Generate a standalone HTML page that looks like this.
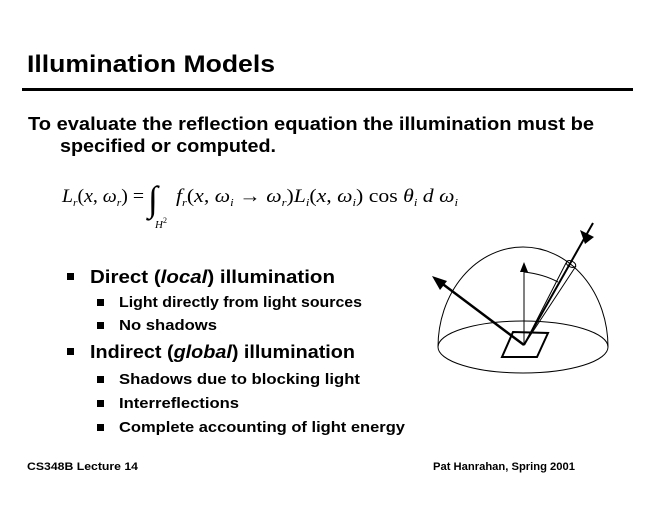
<!DOCTYPE html>
<html><head><meta charset="utf-8"><style>
html,body{margin:0;padding:0;background:#fff;width:660px;height:510px;overflow:hidden}
svg{display:block}
.b{font-family:"Liberation Sans",Arial,sans-serif;font-weight:bold;fill:#000}
.m{font-family:"Liberation Serif","Times New Roman",serif;fill:#000}
</style></head><body>
<svg width="660" height="510" viewBox="0 0 660 510" xmlns="http://www.w3.org/2000/svg">
<text class="b" x="27" y="72" font-size="24" textLength="248" lengthAdjust="spacingAndGlyphs">Illumination Models</text>
<rect x="22" y="88" width="611" height="3" fill="#000"/>
<text class="b" x="28" y="130" font-size="18" textLength="566" lengthAdjust="spacingAndGlyphs">To evaluate the reflection equation the illumination must be</text>
<text class="b" x="60" y="152" font-size="18" textLength="216" lengthAdjust="spacingAndGlyphs">specified or computed.</text>

<text class="m" x="62" y="202" font-size="19" textLength="82" lengthAdjust="spacingAndGlyphs"><tspan font-style="italic">L</tspan><tspan font-size="11" dy="4" font-style="italic">r</tspan><tspan dy="-4">(</tspan><tspan font-style="italic">x</tspan>, <tspan font-style="italic">ω</tspan><tspan font-size="11" dy="4" font-style="italic">r</tspan><tspan dy="-4">) =</tspan></text>
<text class="m" x="148" y="211" font-size="36" transform="scale(1,1)">∫</text>
<text class="m" x="155" y="228" font-size="11" font-style="italic">H<tspan font-style="normal" font-size="8" dy="-5">2</tspan></text>
<text class="m" x="176" y="202" font-size="19" textLength="282" lengthAdjust="spacingAndGlyphs"><tspan font-style="italic">f</tspan><tspan font-size="11" dy="4" font-style="italic">r</tspan><tspan dy="-4">(</tspan><tspan font-style="italic">x</tspan>, <tspan font-style="italic">ω</tspan><tspan font-size="11" dy="4" font-style="italic">i</tspan><tspan dy="-4"> → </tspan><tspan font-style="italic">ω</tspan><tspan font-size="11" dy="4" font-style="italic">r</tspan><tspan dy="-4">)</tspan><tspan font-style="italic">L</tspan><tspan font-size="11" dy="4" font-style="italic">i</tspan><tspan dy="-4">(</tspan><tspan font-style="italic">x</tspan>, <tspan font-style="italic">ω</tspan><tspan font-size="11" dy="4" font-style="italic">i</tspan><tspan dy="-4">) cos </tspan><tspan font-style="italic">θ</tspan><tspan font-size="11" dy="4" font-style="italic">i</tspan><tspan dy="-4"> </tspan><tspan font-style="italic">d ω</tspan><tspan font-size="11" dy="4" font-style="italic">i</tspan></text>

<rect x="67" y="273" width="7" height="7" fill="#000"/>
<text class="b" x="90" y="283" font-size="18" textLength="245" lengthAdjust="spacingAndGlyphs">Direct (<tspan font-style="italic">local</tspan>) illumination</text>
<rect x="97" y="299" width="7" height="7" fill="#000"/>
<text class="b" x="119" y="307" font-size="15" textLength="243" lengthAdjust="spacingAndGlyphs">Light directly from light sources</text>
<rect x="97" y="322" width="7" height="7" fill="#000"/>
<text class="b" x="119" y="330" font-size="15" textLength="98" lengthAdjust="spacingAndGlyphs">No shadows</text>
<rect x="67" y="348" width="7" height="7" fill="#000"/>
<text class="b" x="90" y="358" font-size="18" textLength="265" lengthAdjust="spacingAndGlyphs">Indirect (<tspan font-style="italic">global</tspan>) illumination</text>
<rect x="97" y="376" width="7" height="7" fill="#000"/>
<text class="b" x="119" y="384" font-size="15" textLength="241" lengthAdjust="spacingAndGlyphs">Shadows due to blocking light</text>
<rect x="97" y="400" width="7" height="7" fill="#000"/>
<text class="b" x="119" y="408" font-size="15" textLength="120" lengthAdjust="spacingAndGlyphs">Interreflections</text>
<rect x="97" y="424" width="7" height="7" fill="#000"/>
<text class="b" x="119" y="432" font-size="15" textLength="286" lengthAdjust="spacingAndGlyphs">Complete accounting of light energy</text>

<text class="b" x="27" y="470" font-size="11" textLength="111" lengthAdjust="spacingAndGlyphs">CS348B Lecture 14</text>
<text class="b" x="433" y="470" font-size="11" textLength="142" lengthAdjust="spacingAndGlyphs">Pat Hanrahan, Spring 2001</text>

<g fill="none" stroke="#000">
<path d="M438 347 A85 100 0 0 1 608 347" stroke-width="1"/>
<ellipse cx="523" cy="347" rx="85" ry="26" stroke-width="1"/>
<polygon points="513,332 548,333 537,357 502,357" stroke-width="2"/>
<line x1="524" y1="345" x2="524" y2="270" stroke-width="1"/>
<path d="M524 272 Q543 274 558 282" stroke-width="1"/>
<line x1="524" y1="345" x2="440" y2="282" stroke-width="2.5"/>
<line x1="524" y1="345" x2="566" y2="263" stroke-width="1"/>
<line x1="524" y1="345" x2="576" y2="266" stroke-width="1"/>
<ellipse cx="571" cy="264" rx="5" ry="3" stroke-width="1" transform="rotate(25 571 264)"/>
<line x1="524" y1="345" x2="593" y2="223" stroke-width="2"/>
</g>
<polygon points="524,262 520,272 528,272" fill="#000"/>
<polygon points="432,276 447,281 440,290" fill="#000"/>
<polygon points="585,244 580,230 594,237" fill="#000"/>
</svg>
</body></html>
